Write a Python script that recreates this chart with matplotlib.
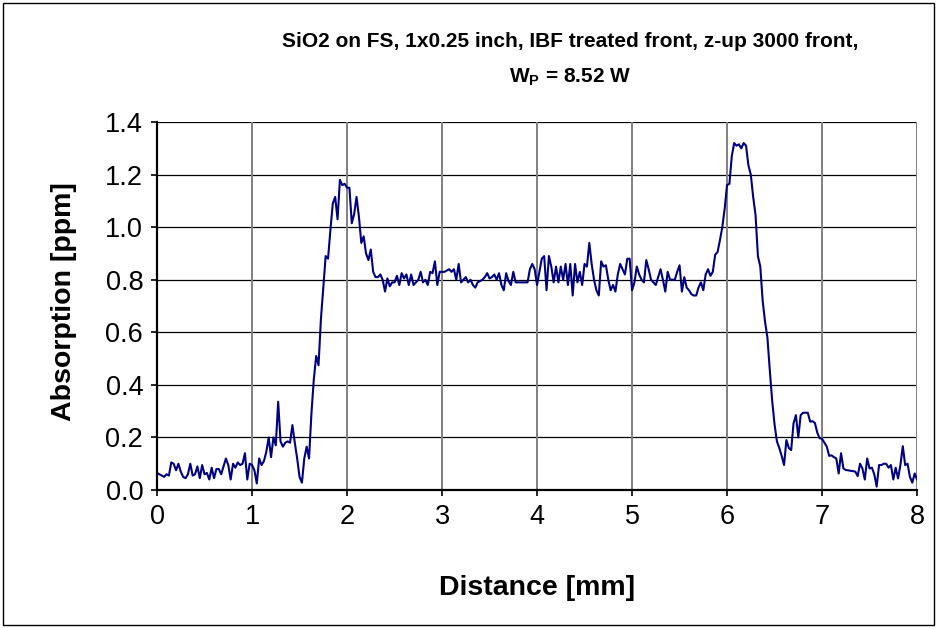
import numpy as np
import matplotlib
matplotlib.use("Agg")
import matplotlib.pyplot as plt
from matplotlib.patches import Rectangle

plt.rcParams['font.family'] = ['Liberation Sans', 'DejaVu Sans']
plt.rcParams['mathtext.fontset'] = 'custom'
plt.rcParams['mathtext.rm'] = 'Liberation Sans'
plt.rcParams['mathtext.bf'] = 'Liberation Sans:bold'

# absorption scan, one sample every 0.025 mm
y_0to1 = [0.065, 0.060, 0.055, 0.050, 0.060, 0.055, 0.105, 0.100, 0.075, 0.100,
          0.070, 0.050, 0.045, 0.060, 0.100, 0.055, 0.060, 0.090, 0.045, 0.095,
          0.060, 0.065, 0.040, 0.085, 0.045, 0.080, 0.080, 0.060, 0.090, 0.120,
          0.095, 0.040, 0.100, 0.085, 0.105, 0.095, 0.100, 0.140, 0.040, 0.100]
y_1to2 = [0.095, 0.075, 0.025, 0.120, 0.095, 0.110, 0.145, 0.200, 0.125, 0.200,
          0.170, 0.336, 0.185, 0.165, 0.180, 0.185, 0.180, 0.247, 0.180, 0.120,
          0.050, 0.028, 0.120, 0.165, 0.120, 0.290, 0.420, 0.510, 0.475, 0.650,
          0.770, 0.890, 0.880, 0.990, 1.090, 1.115, 1.030, 1.180, 1.160, 1.165]
y_2to3 = [1.150, 1.150, 1.015, 1.050, 1.115, 1.040, 0.940, 0.965, 0.900, 0.875,
          0.915, 0.830, 0.810, 0.810, 0.820, 0.800, 0.755, 0.805, 0.775, 0.790,
          0.790, 0.815, 0.780, 0.825, 0.805, 0.820, 0.780, 0.820, 0.780, 0.790,
          0.800, 0.830, 0.790, 0.800, 0.780, 0.830, 0.825, 0.870, 0.780, 0.830]
y_3to4 = [0.830, 0.830, 0.835, 0.840, 0.830, 0.840, 0.800, 0.860, 0.790, 0.800,
          0.810, 0.790, 0.800, 0.780, 0.770, 0.790, 0.795, 0.800, 0.810, 0.825,
          0.805, 0.810, 0.820, 0.800, 0.825, 0.780, 0.760, 0.825, 0.795, 0.780,
          0.830, 0.790, 0.790, 0.790, 0.790, 0.790, 0.790, 0.840, 0.860, 0.840]
y_4to5 = [0.780, 0.830, 0.880, 0.890, 0.760, 0.890, 0.850, 0.790, 0.850, 0.790,
          0.850, 0.800, 0.860, 0.780, 0.860, 0.740, 0.860, 0.790, 0.830, 0.780,
          0.860, 0.850, 0.940, 0.860, 0.800, 0.760, 0.740, 0.870, 0.850, 0.855,
          0.800, 0.760, 0.780, 0.755, 0.820, 0.860, 0.840, 0.820, 0.880, 0.880]
y_5to6 = [0.760, 0.790, 0.850, 0.820, 0.800, 0.790, 0.875, 0.840, 0.800, 0.790,
          0.780, 0.810, 0.840, 0.800, 0.755, 0.830, 0.800, 0.800, 0.800, 0.830,
          0.855, 0.755, 0.810, 0.770, 0.760, 0.745, 0.740, 0.740, 0.770, 0.790,
          0.760, 0.820, 0.840, 0.815, 0.830, 0.895, 0.905, 0.950, 1.000, 1.070]
y_6to7 = [1.160, 1.165, 1.270, 1.320, 1.310, 1.315, 1.300, 1.320, 1.310, 1.235,
          1.200, 1.115, 1.046, 0.890, 0.850, 0.720, 0.640, 0.580, 0.456, 0.340,
          0.250, 0.185, 0.160, 0.130, 0.095, 0.190, 0.160, 0.152, 0.254, 0.285,
          0.200, 0.285, 0.294, 0.294, 0.294, 0.260, 0.262, 0.255, 0.218, 0.197]
y_7to8 = [0.195, 0.180, 0.165, 0.130, 0.132, 0.125, 0.120, 0.063, 0.140, 0.082,
          0.076, 0.075, 0.073, 0.072, 0.070, 0.053, 0.100, 0.082, 0.040, 0.120,
          0.082, 0.085, 0.060, 0.013, 0.095, 0.095, 0.100, 0.100, 0.085, 0.095,
          0.040, 0.085, 0.044, 0.095, 0.167, 0.095, 0.100, 0.050, 0.028, 0.063,
          0.040]

absorption = np.array(y_0to1 + y_1to2 + y_2to3 + y_3to4 +
                      y_4to5 + y_5to6 + y_6to7 + y_7to8)
distance = np.linspace(0, 8, len(absorption))

title = "SiO2 on FS, 1x0.25 inch, IBF treated front, z-up 3000 front,\n" \
        r"W$_{\mathbf{P}}$ = 8.52 W"

fig = plt.figure(figsize=(9.37, 6.28), dpi=100)
# outer chart border (excel style)
fig.patches.append(Rectangle((0.003, 0.004), 0.994, 0.992, transform=fig.transFigure,
                             fill=False, edgecolor='black', linewidth=1.0))

ax = fig.add_axes([0.1676, 0.2197, 0.8111, 0.586])
ax.plot(distance, absorption, color='#000080', linewidth=1.5)

ax.set_xlim(0, 8)
ax.set_ylim(0, 1.4)
ax.set_xticks(range(0, 9))
ax.set_yticks(np.arange(0, 1.41, 0.2))
ax.set_yticklabels([f"{v:.1f}" for v in np.arange(0, 1.41, 0.2)])

# grid: horizontal black, vertical gray
for v in np.arange(0.2, 1.41, 0.2):
    ax.axhline(v, color='black', linewidth=0.9, zorder=0)
for v in range(1, 9):
    ax.axvline(v, color='#808080', linewidth=1.4, zorder=0)

for s in ['top', 'right']:
    ax.spines[s].set_visible(False)
for s in ['left', 'bottom']:
    ax.spines[s].set_linewidth(1.6)

ax.tick_params(axis='both', labelsize=19.5, length=4, width=1.2, direction='out', pad=6)

ax.set_xlabel("Distance [mm]", fontsize=20.5, fontweight='bold', va='center')
ax.set_ylabel("Absorption [ppm]", fontsize=20.5, fontweight='bold', va='center')
ax.xaxis.set_label_coords(0.5, -0.266)
ax.yaxis.set_label_coords(-0.122, 0.511)

fig.text(0.608, 0.904, title, ha='center', va='center', fontsize=15,
         fontweight='bold', linespacing=1.95)

fig.savefig("out.png", dpi=100)
